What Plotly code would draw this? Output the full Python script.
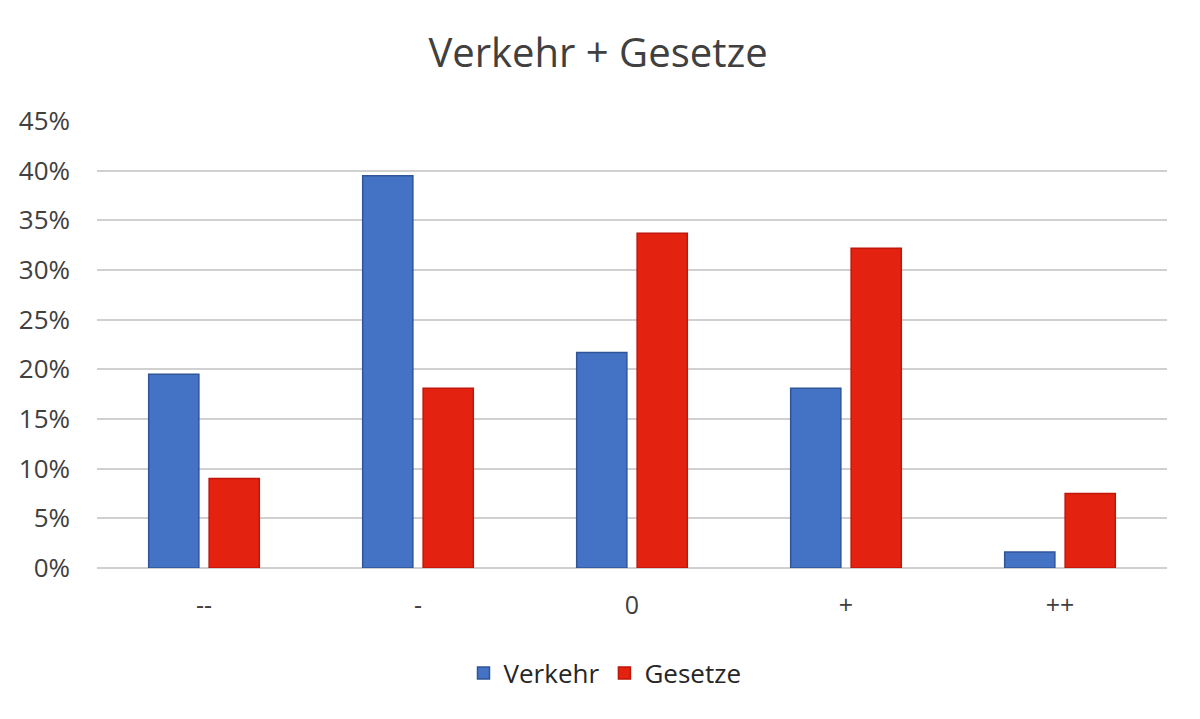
import plotly.graph_objects as go

categories = ["--", "-", "0", "+", "++"]
verkehr = [19.5, 39.5, 21.7, 18.1, 1.6]
gesetze = [9.0, 18.1, 33.7, 32.2, 7.5]
y_ticks = [0, 5, 10, 15, 20, 25, 30, 35, 40, 45]
y_labels = [f"{v}%" for v in y_ticks]

FONT = "Open Sans"

fig = go.Figure()
fig.add_trace(go.Bar(name="Verkehr", x=categories, y=verkehr,
                     marker=dict(color="#4472C4", line=dict(color="#2F5597", width=1.5))))
fig.add_trace(go.Bar(name="Gesetze", x=categories, y=gesetze,
                     marker=dict(color="#E3230F", line=dict(color="#C0150A", width=1.5))))

fig.update_layout(
    width=1200, height=719,
    paper_bgcolor="white", plot_bgcolor="white",
    margin=dict(l=89, r=41, t=113, b=159, autoexpand=False),
    barmode="group", bargap=0.435, bargroupgap=0.17,
    title=dict(text="Verkehr + Gesetze", x=0.4917, xanchor="center", y=0.938, yanchor="middle",
               font=dict(family=FONT, size=40, color="#404040")),
    font=dict(family=FONT, color="#404040"),
    showlegend=True,
    legend=dict(orientation="h", xref="container", x=0.4975, xanchor="center",
                y=-0.235, yanchor="middle",
                font=dict(family=FONT, size=26, color="#262626"), itemwidth=30,
                traceorder="normal"),
    xaxis=dict(showgrid=False, showline=False, ticks="", zeroline=False,
               tickfont=dict(family=FONT, size=25, color="#404040"), ticklabelstandoff=20),
    yaxis=dict(range=[0, 45], tickvals=y_ticks, ticktext=y_labels,
               showgrid=True, gridcolor="#D0D0D0", gridwidth=2,
               zeroline=True, zerolinecolor="#D0D0D0", zerolinewidth=2,
               showline=False, ticks="",
               tickfont=dict(family=FONT, size=26, color="#404040"), ticklabelstandoff=26),
)

fig.write_html("out.html")
